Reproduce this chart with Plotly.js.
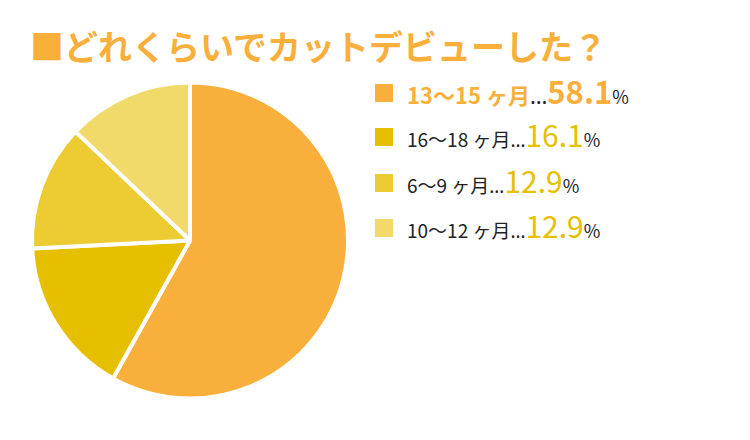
<!DOCTYPE html>
<html><head><meta charset="utf-8">
<script src="https://cdn.plot.ly/plotly-3.0.1.min.js"></script>
<style>body{margin:0;background:#fff}#c{width:750px;height:440px}</style>
</head><body><div id="c"></div>
<script>
const categories = ["13〜15 ヶ月", "16〜18 ヶ月", "6〜9 ヶ月", "10〜12 ヶ月"];
const values = [58.1, 16.1, 12.9, 12.9];
const colors = ["#F9AF3C", "#E6C000", "#EDCB33", "#F2DA6A"];
const titleText = "■どれくらいでカットデビューした？";

const FONT = "'Noto Sans CJK JP', 'Noto Sans', sans-serif";
const data = [{
  type: "pie",
  labels: categories,
  values: values,
  sort: false,
  direction: "clockwise",
  rotation: 0,
  marker: {colors: colors, line: {color: "#ffffff", width: 4}},
  textinfo: "none",
  hoverinfo: "label+percent",
  domain: {x: [32/750, 348/750], y: [1 - 399/440, 1 - 82/440]},
  showlegend: false
}];

const rowY = [93, 137, 183, 228];
const shapes = [];
const annotations = [{
  text: "<b>" + titleText + "</b>",
  x: 28/750, y: 1 - 45/440, xref: "paper", yref: "paper",
  xanchor: "left", yanchor: "middle", showarrow: false,
  font: {family: FONT, size: 34, color: "#F9AF3C"}
}];
const ell = "<span style='font-family:Noto Sans, sans-serif'>…</span>";
categories.forEach((c, i) => {
  const yc = rowY[i];
  shapes.push({type: "rect", xref: "paper", yref: "paper",
    x0: 375/750, x1: 393/750, y0: 1 - (yc + 9)/440, y1: 1 - (yc - 9)/440,
    fillcolor: colors[i], line: {width: 0}});
  const first = i === 0;
  const labelHtml = first
    ? "<b><span style='color:#F9AF3C'>" + c + "</span></b>" + ell
    : c + ell;
  const valHtml = first
    ? "<b><span style='color:#F9AF3C;font-size:31px'>" + values[i].toFixed(1) + "</span></b>"
    : "<span style='color:#E6C000;font-size:30px'>" + values[i].toFixed(1) + "</span>";
  annotations.push({
    text: "<span style='font-size:" + (first ? 22 : 19) + "px'>" + labelHtml + "</span>" + valHtml + "%",
    x: 405/750, y: 1 - (yc - 3)/440, xref: "paper", yref: "paper",
    xanchor: "left", yanchor: "middle", showarrow: false,
    font: {family: FONT, size: 18, color: "#222222"}
  });
});

const layout = {
  width: 750, height: 440,
  margin: {l: 0, r: 0, t: 0, b: 0},
  paper_bgcolor: "#ffffff",
  shapes: shapes,
  annotations: annotations
};
Plotly.newPlot("c", data, layout, {displayModeBar: false, staticPlot: true});
</script></body></html>
